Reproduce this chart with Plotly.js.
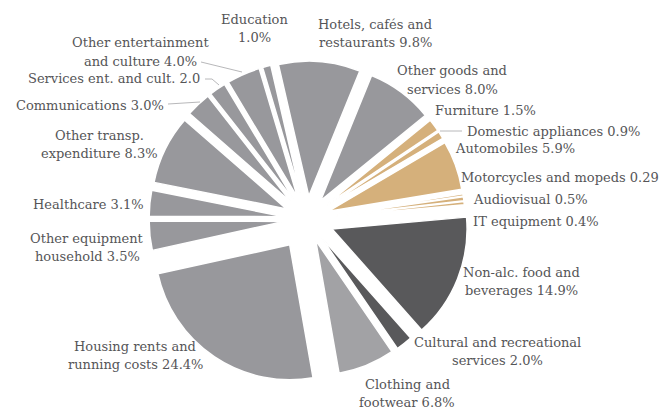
<!DOCTYPE html>
<html>
<head>
<meta charset="utf-8">
<script src="https://cdn.plot.ly/plotly-3.0.1.min.js"></script>
<style>html,body{margin:0;padding:0;background:#fff;}#chart{width:666px;height:409px;}</style>
</head>
<body>
<div id="chart"></div>
<script>
// ---- data ----
const categories = [
  "Hotels, cafés and restaurants", "Other goods and services", "Furniture",
  "Domestic appliances", "Automobiles", "Motorcycles and mopeds", "Audiovisual",
  "IT equipment", "Non-alc. food and beverages", "Cultural and recreational services",
  "Clothing and footwear", "Housing rents and running costs", "Other equipment household",
  "Healthcare", "Other transp. expenditure", "Communications",
  "Services ent. and cult.", "Other entertainment and culture", "Education"
];
const shares = [9.8, 8.0, 1.5, 0.9, 5.9, 0.29, 0.5, 0.4, 14.9, 2.0, 6.8, 24.4, 3.5, 3.1, 8.3, 3.0, 2.0, 4.0, 1.0];
const labelTexts = [
  "Hotels, cafés and<br>restaurants 9.8%", "Other goods and<br>services 8.0%", "Furniture 1.5%",
  "Domestic appliances 0.9%", "Automobiles 5.9%", "Motorcycles and mopeds 0.29", "Audiovisual 0.5%",
  "IT equipment 0.4%", "Non-alc. food and<br>beverages 14.9%", "Cultural and recreational<br>services 2.0%",
  "Clothing and<br>footwear 6.8%", "Housing rents and<br>running costs 24.4%", "Other equipment<br>household 3.5%",
  "Healthcare 3.1%", "Other transp.<br>expenditure 8.3%", "Communications 3.0%",
  "Services ent. and cult. 2.0", "Other entertainment<br>and culture 4.0%", "Education<br>1.0%"
];

// ---- styles ----
const GREY = "#98989c", GOLD = "#d5b07b", DARK = "#59595b", LIGHT = "#a2a2a5";
const colorOf = {
  "Furniture": GOLD, "Domestic appliances": GOLD, "Automobiles": GOLD,
  "Motorcycles and mopeds": GOLD, "Audiovisual": GOLD, "IT equipment": GOLD,
  "Non-alc. food and beverages": DARK, "Cultural and recreational services": DARK,
  "Clothing and footwear": LIGHT
};
const colors = categories.map(c => colorOf[c] || GREY);
const pullOf = {
  "Housing rents and running costs": 0.23,
  "Non-alc. food and beverages": 0.2
};
const pulls = categories.map(c => pullOf[c] || 0.17);

const W = 666, H = 409;
const px = x => x / W, py = y => 1 - y / H;

// label placement (pixel positions of first line: x, y, anchor)
const labelPlace = [
  [375, 24, "center"], [452, 71, "center"], [433, 111, "left"],
  [465, 131, "left"], [453, 149, "left"], [459, 177, "left"], [471, 199, "left"],
  [471, 221, "left"], [521, 272, "center"], [497, 342, "center"],
  [407, 384, "center"], [135, 346, "center"], [87, 238, "center"],
  [146, 204, "right"], [99, 135, "center"], [166, 105, "right"],
  [202, 79, "right"], [140, 43, "center"], [255, 19, "center"]
];
const LINE = 18.7;
const font = {family: "DejaVu Serif", size: 13, color: "#555557"};

const annotations = [];
labelTexts.forEach((t, i) => {
  t.split("<br>").forEach((line, k) => {
    annotations.push({
      text: line, xref: "paper", yref: "paper",
      x: px(labelPlace[i][0]), y: py(labelPlace[i][1] + k * LINE),
      xanchor: labelPlace[i][2], yanchor: "middle",
      showarrow: false, font: font
    });
  });
});

const leader = (pts) => ({
  type: "path", xref: "paper", yref: "paper",
  path: pts.map((p, k) => (k ? "L" : "M") + px(p[0]) + "," + py(p[1])).join(" "),
  line: {color: "#b8b8ba", width: 1}
});
const shapes = [
  leader([[201, 62], [242, 72]]),
  leader([[205, 79], [212, 79], [219, 85]]),
  leader([[168, 104], [200, 102]]),
  leader([[440, 131], [462, 131]])
];

// pie geometry: radius 135 px, centre (307, 219)
const R = 135, CX = 307, CY = 219;
const maxPull = Math.max(...pulls);
const half = R * (1 + maxPull);

const trace = {
  type: "pie",
  labels: categories,
  values: shares,
  sort: false,
  direction: "clockwise",
  rotation: -13,
  pull: pulls,
  marker: {colors: colors, line: {color: "#ffffff", width: 1.5}},
  textinfo: "none",
  hoverinfo: "none",
  showlegend: false,
  domain: {x: [(CX - half) / W, (CX + half) / W], y: [py(CY + half), py(CY - half)]}
};

Plotly.newPlot("chart", [trace], {
  width: W, height: H,
  margin: {l: 0, r: 0, t: 0, b: 0},
  paper_bgcolor: "#fff",
  showlegend: false,
  annotations: annotations,
  shapes: shapes
}, {displayModeBar: false, staticPlot: true});
</script>
</body>
</html>
